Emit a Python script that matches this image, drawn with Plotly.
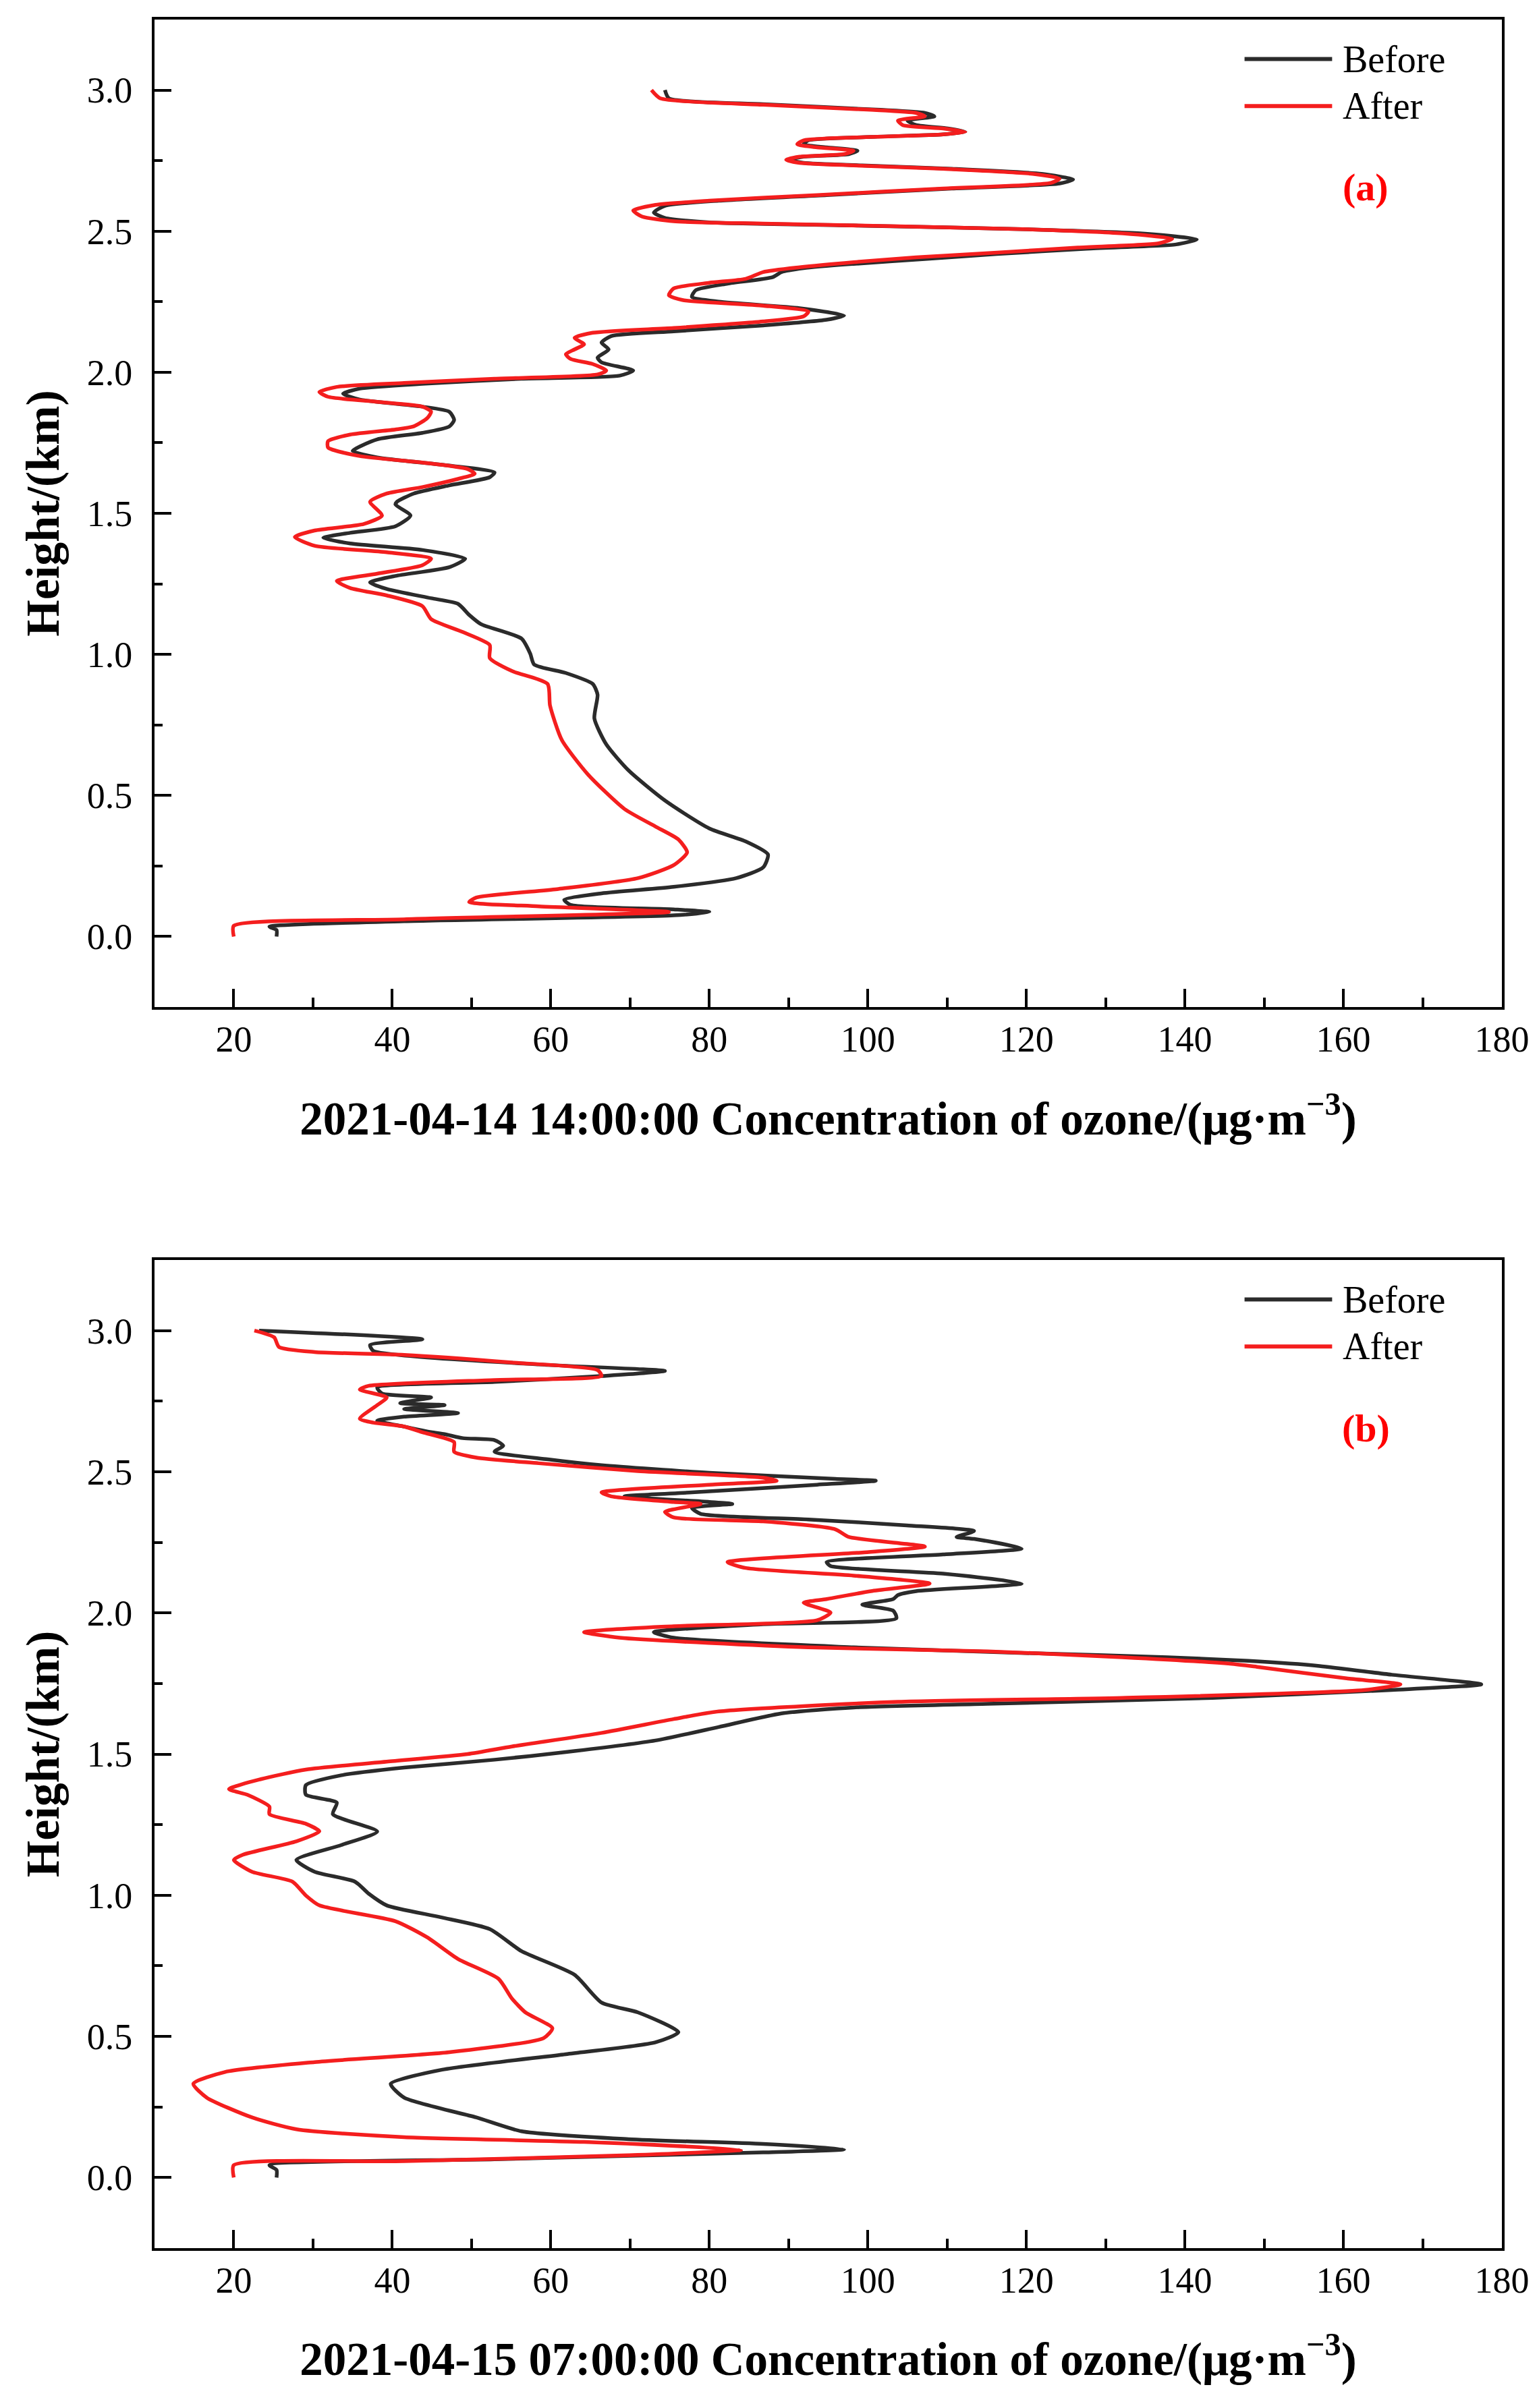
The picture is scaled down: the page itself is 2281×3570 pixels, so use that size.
import plotly.graph_objects as go

# ---------------- data ----------------
# Panel (a): 2021-04-14 14:00:00
a_before_conc = [74.4, 74.9, 86.8, 101.6, 107.2, 108.4, 105.0, 106.1, 110.1, 112.3, 109.5, 100.4, 92.5, 91.9,
                 94.8, 98.7, 97.6, 91.9, 90.0, 91.9, 99.3, 110.6, 121.9, 125.9, 124.2, 110.6, 94.8, 81.2, 74.4,
                 73.0, 74.4, 80.0, 98.2, 120.8, 134.4, 141.5, 138.9, 127.6, 116.3, 107.2, 98.2, 91.9, 89.1, 88.0,
                 82.3, 78.3, 77.8, 81.2, 91.4, 97.0, 94.8, 86.8, 75.5, 67.6, 66.4, 67.3, 65.9, 66.4, 70.4, 68.7,
                 56.3, 43.8, 35.9, 33.8, 35.9, 43.8, 47.2, 47.8, 47.2, 43.8, 38.1, 35.0, 38.1, 47.2, 52.9, 52.3,
                 47.2, 42.7, 40.6, 40.4, 42.3, 40.4, 34.7, 31.3, 34.7, 43.8, 49.2, 47.2, 40.4, 37.2, 39.3, 44.9,
                 48.3, 49.7, 51.2, 56.3, 57.4, 57.9, 61.9, 65.3, 65.9, 65.5, 67.0, 69.8, 74.4, 80.0, 84.6, 87.4,
                 86.8, 83.4, 75.5, 66.4, 61.7, 62.5, 75.5, 80.0, 75.5, 41.5, 24.5, 25.4, 25.4]
a_before_height = [3.000, 2.971, 2.950, 2.930, 2.919, 2.907, 2.892, 2.876, 2.864, 2.852, 2.843, 2.834, 2.822, 2.808,
                   2.797, 2.785, 2.773, 2.764, 2.753, 2.742, 2.733, 2.721, 2.703, 2.683, 2.669, 2.651, 2.628, 2.608, 2.590,
                   2.566, 2.547, 2.531, 2.520, 2.506, 2.492, 2.471, 2.453, 2.438, 2.419, 2.401, 2.384, 2.369, 2.355, 2.337,
                   2.314, 2.291, 2.267, 2.250, 2.227, 2.201, 2.186, 2.166, 2.145, 2.128, 2.105, 2.081, 2.052, 2.035, 2.006, 1.988,
                   1.977, 1.959, 1.942, 1.924, 1.903, 1.878, 1.860, 1.831, 1.808, 1.785, 1.762, 1.721, 1.698, 1.669, 1.645, 1.628,
                   1.599, 1.570, 1.541, 1.531, 1.492, 1.454, 1.431, 1.413, 1.393, 1.370, 1.339, 1.309, 1.278, 1.255, 1.232, 1.199,
                   1.179, 1.140, 1.107, 1.056, 1.003, 0.964, 0.934, 0.895, 0.857, 0.773, 0.681, 0.589, 0.482, 0.383, 0.337, 0.291,
                   0.245, 0.207, 0.176, 0.153, 0.130, 0.112, 0.096, 0.087, 0.075, 0.054, 0.035, 0.023, 0.000]

a_after_conc = [72.7, 73.8, 86.8, 100.4, 106.1, 107.2, 103.8, 104.4, 109.5, 112.3, 109.5, 100.4, 91.9, 91.1,
                93.6, 98.2, 97.0, 91.4, 89.7, 91.4, 98.2, 109.5, 120.8, 124.2, 123.1, 109.5, 93.6, 80.0, 73.2,
                70.4, 71.5, 75.5, 86.8, 103.8, 120.8, 132.2, 138.4, 136.7, 126.5, 116.3, 106.1, 98.2, 91.4, 86.8,
                84.6, 80.0, 75.5, 74.9, 76.6, 86.8, 92.5, 91.9, 86.8, 75.5, 65.3, 63.0, 64.2, 63.0, 61.9, 62.5,
                65.3, 67.0, 65.9, 52.9, 41.5, 33.0, 30.8, 31.9, 38.1, 43.8, 44.9, 44.4, 42.7, 40.4, 34.7, 31.9,
                31.9, 35.9, 43.8, 49.5, 50.4, 48.3, 43.8, 39.3, 37.2, 38.7, 36.4, 30.2, 27.7, 30.2, 39.3, 44.9,
                43.8, 38.1, 33.0, 34.7, 39.3, 43.8, 44.9, 48.9, 52.3, 52.3, 55.1, 59.6, 59.9, 61.4, 64.7, 69.3,
                73.2, 76.1, 77.2, 75.5, 71.0, 60.8, 50.6, 49.7, 58.5, 74.9, 41.5, 20.0, 20.0]
a_after_height = [3.000, 2.971, 2.948, 2.930, 2.919, 2.907, 2.892, 2.876, 2.864, 2.852, 2.843, 2.834, 2.822, 2.808,
                  2.797, 2.785, 2.773, 2.764, 2.753, 2.742, 2.733, 2.721, 2.703, 2.686, 2.671, 2.651, 2.628, 2.608, 2.593,
                  2.573, 2.552, 2.535, 2.527, 2.517, 2.506, 2.492, 2.473, 2.457, 2.442, 2.424, 2.407, 2.390, 2.372, 2.355,
                  2.331, 2.317, 2.297, 2.273, 2.256, 2.236, 2.215, 2.198, 2.180, 2.157, 2.140, 2.122, 2.099, 2.081, 2.064, 2.047,
                  2.029, 2.006, 1.992, 1.977, 1.962, 1.948, 1.930, 1.913, 1.895, 1.878, 1.860, 1.837, 1.808, 1.797, 1.779, 1.756,
                  1.733, 1.703, 1.680, 1.657, 1.640, 1.622, 1.593, 1.570, 1.541, 1.492, 1.462, 1.439, 1.416, 1.385, 1.362, 1.339,
                  1.316, 1.286, 1.260, 1.235, 1.209, 1.171, 1.125, 1.079, 1.033, 0.987, 0.941, 0.895, 0.819, 0.696, 0.574, 0.452,
                  0.390, 0.344, 0.298, 0.253, 0.207, 0.168, 0.138, 0.122, 0.107, 0.087, 0.061, 0.038, 0.000]

# Panel (b): 2021-04-15 07:00:00
b_before_conc = [23.2, 43.8, 37.2, 37.6, 58.5, 74.4, 66.4, 52.9, 38.1, 38.7, 44.9, 41.0, 46.6, 41.5, 48.3, 41.5,
                 38.1, 41.5, 44.9, 46.6, 48.9, 52.9, 54.0, 52.9, 59.6, 66.4, 80.0, 95.9, 101.0, 93.6, 77.8, 69.3,
                 80.0, 82.9, 77.8, 78.9, 92.5, 104.9, 113.4, 111.2, 113.4, 119.4, 109.5, 94.8, 95.3, 109.5, 119.4,
                 106.1, 103.8, 103.2, 99.3, 103.2, 103.6, 86.8, 73.0, 75.5, 98.2, 120.8, 137.8, 148.0, 157.0, 166.1,
                 177.4, 166.1, 143.5, 115.1, 98.2, 89.1, 81.2, 73.2, 61.9, 52.9, 41.5, 33.6, 29.1, 29.1, 33.0, 32.5,
                 38.1, 33.6, 27.9, 30.2, 35.3, 37.0, 39.3, 46.1, 52.3, 56.3, 63.0, 66.4, 71.0, 76.1, 73.2, 61.9,
                 46.1, 39.8, 41.5, 50.6, 56.3, 69.8, 86.8, 97.0, 86.8, 52.9, 24.5, 25.4, 25.4]
b_before_height = [3.000, 2.969, 2.949, 2.928, 2.880, 2.857, 2.839, 2.818, 2.798, 2.777, 2.763, 2.743, 2.736, 2.722, 2.708, 2.695,
                   2.681, 2.660, 2.640, 2.633, 2.619, 2.612, 2.592, 2.571, 2.544, 2.523, 2.496, 2.475, 2.468, 2.454, 2.427, 2.413,
                   2.393, 2.386, 2.372, 2.351, 2.331, 2.310, 2.290, 2.269, 2.262, 2.228, 2.207, 2.180, 2.166, 2.139, 2.104,
                   2.077, 2.063, 2.049, 2.029, 2.008, 1.981, 1.960, 1.932, 1.912, 1.878, 1.857, 1.843, 1.830, 1.812, 1.781,
                   1.747, 1.727, 1.699, 1.678, 1.665, 1.644, 1.596, 1.548, 1.507, 1.480, 1.452, 1.425, 1.390, 1.356, 1.328, 1.287,
                   1.226, 1.178, 1.125, 1.083, 1.048, 1.006, 0.964, 0.922, 0.880, 0.802, 0.718, 0.620, 0.585, 0.515, 0.479, 0.437,
                   0.381, 0.332, 0.283, 0.213, 0.164, 0.136, 0.119, 0.100, 0.089, 0.065, 0.044, 0.027, 0.000]

b_after_conc = [22.6, 25.1, 25.7, 30.2, 41.5, 55.1, 65.9, 66.4, 52.9, 37.0, 35.9, 39.3, 38.1, 35.9, 37.6, 41.5,
                43.8, 47.8, 47.8, 50.6, 58.5, 71.0, 86.8, 88.5, 80.0, 66.4, 67.6, 75.5, 78.9, 74.4, 75.5, 86.8,
                95.9, 97.6, 107.2, 99.3, 82.3, 84.6, 98.2, 107.8, 100.4, 94.8, 91.9, 95.3, 93.6, 75.5, 64.2, 68.7,
                92.5, 115.1, 132.1, 145.7, 149.1, 160.4, 167.2, 162.7, 132.1, 103.8, 81.2, 75.5, 66.4, 55.1, 49.5,
                39.3, 29.1, 23.4, 19.4, 21.7, 24.5, 24.5, 29.1, 30.8, 27.9, 21.1, 20.0, 22.3, 27.4, 29.1, 30.8,
                40.4, 44.4, 48.3, 53.4, 55.1, 56.8, 60.2, 59.1, 47.2, 30.2, 18.9, 14.9, 16.6, 22.3, 27.9, 41.5,
                64.2, 84.0, 69.8, 41.5, 20.0, 20.0]
b_after_height = [3.000, 2.976, 2.942, 2.924, 2.914, 2.887, 2.860, 2.839, 2.825, 2.804, 2.791, 2.763, 2.736, 2.688, 2.674, 2.660,
                  2.640, 2.605, 2.571, 2.550, 2.530, 2.502, 2.479, 2.468, 2.454, 2.427, 2.413, 2.393, 2.386, 2.358, 2.338, 2.324,
                  2.296, 2.269, 2.235, 2.214, 2.180, 2.159, 2.132, 2.104, 2.077, 2.049, 2.036, 2.001, 1.974, 1.953, 1.932, 1.912,
                  1.878, 1.864, 1.843, 1.820, 1.809, 1.768, 1.747, 1.727, 1.699, 1.685, 1.651, 1.624, 1.575, 1.527, 1.500,
                  1.473, 1.445, 1.411, 1.376, 1.356, 1.314, 1.287, 1.253, 1.226, 1.191, 1.143, 1.125, 1.083, 1.048, 0.999, 0.964,
                  0.908, 0.851, 0.774, 0.704, 0.634, 0.585, 0.529, 0.494, 0.444, 0.409, 0.374, 0.332, 0.283, 0.213, 0.171, 0.143,
                  0.126, 0.098, 0.079, 0.058, 0.044, 0.000]

series_names = ["Before", "After"]
panel_labels = ["(a)", "(b)"]
x_titles = ["2021-04-14 14:00:00 Concentration of ozone/(μg·m<sup>−3</sup>)",
            "2021-04-15 07:00:00 Concentration of ozone/(μg·m<sup>−3</sup>)"]
y_title = "Height/(km)"
x_ticks = [20, 40, 60, 80, 100, 120, 140, 160, 180]
y_ticks = [0.0, 0.5, 1.0, 1.5, 2.0, 2.5, 3.0]

# ---------------- styling ----------------
OFF = 8                       # browser body margin
W, H = 2273, 3554             # figure size (page is 2281 x 3570)
PX0, PX1 = 229, 2226          # plot-area edges in page pixels
PA_TOP, PA_BOT = 29, 1493
PB_TOP, PB_BOT = 1868, 3333
ML = PX0 - OFF
MR = W - (PX1 - OFF)
MT = PA_TOP - OFF
MB = H - (PB_BOT - OFF)
BLACK = "#2b2b2b"
RED = "#f41e1e"
FONT = "Liberation Serif, Times New Roman, serif"
LW = 5.5

fig = go.Figure()
panels = [
    ("x", "y", a_before_conc, a_before_height, a_after_conc, a_after_height),
    ("x2", "y2", b_before_conc, b_before_height, b_after_conc, b_after_height),
]
for xa, ya, bc, bh, ac, ah in panels:
    fig.add_trace(go.Scatter(x=bc, y=bh, xaxis=xa, yaxis=ya, mode="lines", name=series_names[0],
                             line=dict(color=BLACK, width=LW, shape="spline", smoothing=0.6),
                             showlegend=False))
    fig.add_trace(go.Scatter(x=ac, y=ah, xaxis=xa, yaxis=ya, mode="lines", name=series_names[1],
                             line=dict(color=RED, width=LW, shape="spline", smoothing=0.6),
                             showlegend=False))

axis_common = dict(showline=True, linewidth=4, linecolor="black", mirror=True,
                   ticks="inside", tickwidth=3.5, tickcolor="black",
                   showgrid=False, zeroline=False, automargin=False,
                   tickfont=dict(family=FONT, size=54, color="black"))
xaxis_style = dict(axis_common, range=[10, 180], tickmode="array", tickvals=x_ticks, ticklen=27,
                   ticklabelstandoff=-3,
                   minor=dict(ticks="inside", ticklen=14, tickwidth=3.5, tickcolor="black",
                              dtick=10, tick0=0, showgrid=False))
yaxis_style = dict(axis_common, range=[-0.25, 3.25], tickmode="array", tickvals=y_ticks,
                   ticktext=[f"{v:.1f}" for v in y_ticks], ticklen=25, ticklabelstandoff=18,
                   title=dict(text="<b>" + y_title + "</b>", standoff=19,
                              font=dict(family=FONT, size=70, color="black")),
                   minor=dict(ticks="inside", ticklen=12, tickwidth=3.5, tickcolor="black",
                              dtick=0.25, tick0=0, showgrid=False))

plot_h = H - MT - MB


def py(page_y):
    return (H - MB - (page_y - OFF)) / plot_h


dom_a = [py(PA_BOT), 1.0]
dom_b = [0.0, py(PB_TOP)]

fig.update_layout(
    width=W, height=H,
    margin=dict(l=ML, r=MR, t=MT, b=MB, pad=0),
    paper_bgcolor="white", plot_bgcolor="white",
    xaxis=dict(xaxis_style, anchor="y", domain=[0, 1],
               title=dict(text="<b>" + x_titles[0] + "</b>", standoff=65,
                          font=dict(family=FONT, size=69, color="black"))),
    yaxis=dict(yaxis_style, anchor="x", domain=dom_a),
    xaxis2=dict(xaxis_style, anchor="y2", domain=[0, 1],
                title=dict(text="<b>" + x_titles[1] + "</b>", standoff=64,
                           font=dict(family=FONT, size=69, color="black"))),
    yaxis2=dict(yaxis_style, anchor="x2", domain=dom_b),
)

annotations = []
shapes = []
for i, (xa, ya) in enumerate([("x", "y"), ("x2", "y2")]):
    # panel label
    annotations.append(dict(text="<b>" + panel_labels[i] + "</b>", xref=f"{xa} domain", yref=f"{ya} domain",
                            x=0.899, y=0.830, xanchor="center", yanchor="middle", showarrow=False,
                            font=dict(family=FONT, size=58, color="#ff0000")))
    # legend
    for j, (name, col) in enumerate(zip(series_names, [BLACK, RED])):
        ly = 0.960 - j * 0.0476
        shapes.append(dict(type="line", xref=f"{xa} domain", yref=f"{ya} domain",
                           x0=0.809, x1=0.874, y0=ly, y1=ly,
                           line=dict(color=col, width=6)))
        annotations.append(dict(text=name, xref=f"{xa} domain", yref=f"{ya} domain",
                                x=0.881, y=ly, xanchor="left", yanchor="middle", showarrow=False,
                                font=dict(family=FONT, size=56, color="black")))

fig.update_layout(annotations=annotations, shapes=shapes)
fig.write_html("out.html")
